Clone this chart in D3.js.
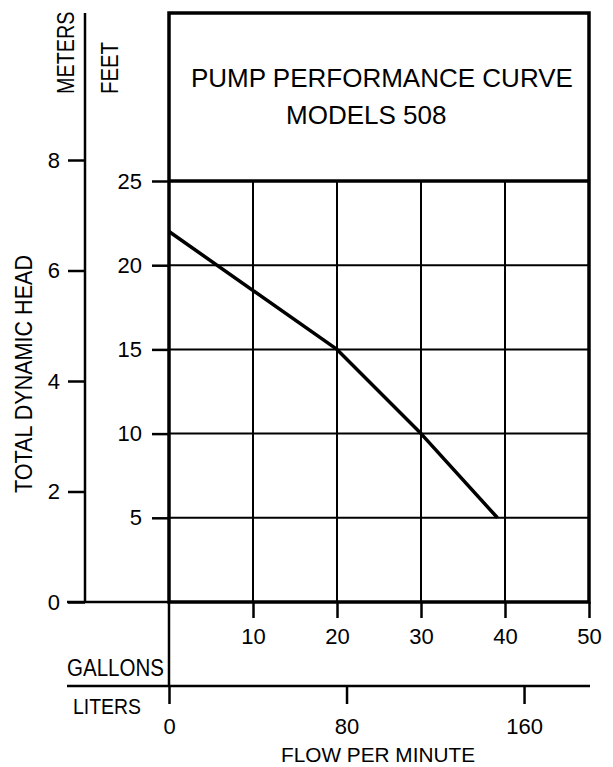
<!DOCTYPE html>
<html><head><meta charset="utf-8">
<script src="https://cdn.jsdelivr.net/npm/d3@7"></script>
<style>
html,body{margin:0;padding:0;background:#fff;}
text{font-family:"Liberation Sans",Arial,sans-serif;fill:#000;}
</style></head>
<body>
<svg id="chart" width="613" height="767"></svg>
<script>
// ---- data ----
const curveGallons = [0, 20, 30, 39.1];
const curveFeet    = [22, 15, 10, 5];
const feetTicks    = [5, 10, 15, 20, 25];
const meterTicks   = [0, 2, 4, 6, 8];
const gallonTicks  = [10, 20, 30, 40, 50];
const literTicks   = [0, 80, 160];
const gridFeet     = [5, 10, 15, 20];
const gridGallons  = [10, 20, 30, 40];
const titleLines   = ["PUMP PERFORMANCE CURVE", "MODELS 508"];

const svg = d3.select("#chart");
const FONT = "Liberation Sans, Arial, sans-serif";

// ---- scales ----
const x = d3.scaleLinear().domain([0, 50]).range([169, 589]);
const y = d3.scaleLinear().domain([0, 25]).range([602, 181]);
const yM = d3.scaleLinear().domain([0, 25 * 0.3048]).range([602, 181]);
const xL = d3.scaleLinear().domain([0, 50 * 3.78541]).range([169, 589]);
const topY = 13;

// ---- grid (thin) ----
const grid = svg.append("g").attr("stroke", "#000").attr("stroke-width", 2);
grid.selectAll(".gx").data(gridGallons).join("line")
  .attr("x1", d => x(d)).attr("x2", d => x(d)).attr("y1", y(25)).attr("y2", y(0));
grid.selectAll(".gy").data(gridFeet).join("line")
  .attr("y1", d => y(d)).attr("y2", d => y(d)).attr("x1", x(0)).attr("x2", x(50));

function styleAxis(g) {
  g.select(".domain").remove();
  g.selectAll(".tick line").attr("stroke-width", 2.5);
  g.selectAll(".tick text").style("font-size", "22px").style("font-family", FONT);
}

// ---- left axes (meters and feet) ----
const axM = svg.append("g").attr("transform", "translate(85,0)")
  .call(d3.axisLeft(yM).tickValues(meterTicks).tickSize(17).tickPadding(8).tickFormat(d3.format("d")));
styleAxis(axM);
svg.append("line").attr("x1", 85).attr("x2", 85).attr("y1", topY).attr("y2", yM(0))
  .attr("stroke", "#000").attr("stroke-width", 2.5);

const axF = svg.append("g").attr("transform", "translate(169,0)")
  .call(d3.axisLeft(y).tickValues(feetTicks).tickSize(17).tickPadding(10));
styleAxis(axF);

// zero baseline extension to the left
svg.append("line").attr("x1", 67).attr("x2", x(0)).attr("y1", y(0)).attr("y2", y(0))
  .attr("stroke", "#000").attr("stroke-width", 2.5);

// ---- bottom axes ----
const axG = svg.append("g").attr("transform", `translate(0,${y(0)})`)
  .call(d3.axisBottom(x).tickValues(gallonTicks).tickSize(16).tickPadding(10));
styleAxis(axG);

const litY = 686;
svg.append("line").attr("x1", 67).attr("x2", 590).attr("y1", litY).attr("y2", litY)
  .attr("stroke", "#000").attr("stroke-width", 2.5);
const axL = svg.append("g").attr("transform", `translate(0,${litY})`)
  .call(d3.axisBottom(xL).tickValues(literTicks).tickSize(18).tickPadding(14));
styleAxis(axL);
// zero gallons line down to liters axis
svg.append("line").attr("x1", x(0)).attr("x2", x(0)).attr("y1", y(0)).attr("y2", litY)
  .attr("stroke", "#000").attr("stroke-width", 2.5);

// ---- thick frame ----
const frame = svg.append("g").attr("stroke", "#000").attr("stroke-width", 3.5).attr("fill", "none");
frame.append("rect").attr("x", x(0)).attr("y", topY).attr("width", x(50) - x(0)).attr("height", y(0) - topY);
frame.append("line").attr("x1", x(0)).attr("x2", x(50)).attr("y1", y(25)).attr("y2", y(25));

// ---- curve ----
const pts = curveGallons.map((g, i) => [g, curveFeet[i]]);
svg.append("path").datum(pts)
  .attr("d", d3.line().x(d => x(d[0])).y(d => y(d[1])))
  .attr("fill", "none").attr("stroke", "#000").attr("stroke-width", 3.5).attr("stroke-linejoin", "round");

// ---- title ----
svg.append("text").attr("x", 191).attr("y", 87).style("font-size", "26px").text(titleLines[0]);
svg.append("text").attr("x", 286).attr("y", 123.5).style("font-size", "26px").text(titleLines[1]);

// ---- axis labels ----
function rot(tx, ty, txt, size, len, anchor) {
  svg.append("text").attr("transform", `translate(${tx},${ty}) rotate(-90)`)
    .attr("text-anchor", anchor).style("font-size", size + "px")
    .attr("textLength", len).attr("lengthAdjust", "spacingAndGlyphs").text(txt);
}
svg.append("text").attr("transform", "translate(73.5,94) rotate(-90) scale(0.86,1)")
  .style("font-size", "23px").text("METERS");
rot(117.5, 94, "FEET", 24, 52, "start");
rot(31.5, 374, "TOTAL DYNAMIC HEAD", 23, 238, "middle");

svg.append("text").attr("x", 67).attr("y", 676).style("font-size", "23px")
  .attr("textLength", 97).attr("lengthAdjust", "spacingAndGlyphs").text("GALLONS");
svg.append("text").attr("x", 73).attr("y", 714).style("font-size", "22px")
  .attr("textLength", 68).attr("lengthAdjust", "spacingAndGlyphs").text("LITERS");
svg.append("text").attr("x", 378).attr("y", 762).attr("text-anchor", "middle").style("font-size", "21px")
  .attr("textLength", 194).attr("lengthAdjust", "spacingAndGlyphs").text("FLOW PER MINUTE");
</script>
</body></html>
